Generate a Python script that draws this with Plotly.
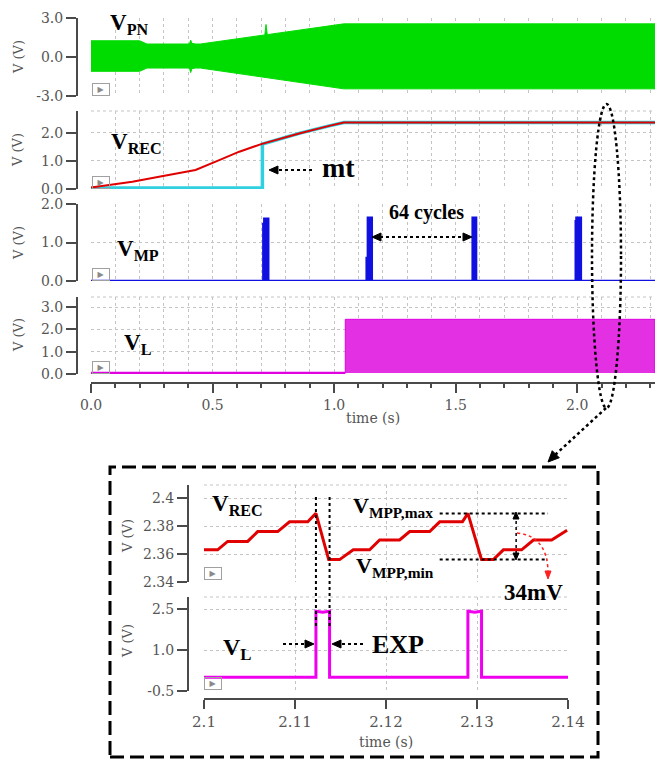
import plotly.graph_objects as go

# browser page keeps its default 8px body margin: size the figure to the visible area
OX, OY = 8, 8
W, H = 664 - OX, 762 - OY

# ---------------- data ----------------
# V_PN : dense oscillation, drawn by its envelope
pn_t     = [0.0, 0.20, 0.23, 0.405, 0.41, 0.415, 0.43, 0.45, 0.715, 0.72, 0.725, 1.04, 2.32]
pn_upper = [1.25, 1.25, 1.0, 1.0, 1.3, 1.05, 1.0, 1.0, 1.70, 2.50, 1.72, 2.55, 2.55]
pn_lower = [-1.1, -1.1, -0.85, -0.85, -1.2, -0.9, -0.85, -0.85, -1.57, -1.57, -1.58, -2.45, -2.45]

# V_REC (red) and mt trace (cyan)
rec_t = [0.0, 0.17, 0.28, 0.39, 0.43, 0.53, 0.61, 0.70, 0.86, 0.98, 1.04, 2.32]
rec_v = [0.05, 0.26, 0.44, 0.62, 0.68, 1.04, 1.33, 1.60, 1.99, 2.25, 2.37, 2.37]
mt_t = [0.0, 0.705, 0.705, 0.86, 0.98, 1.04, 2.32]
mt_v = [0.04, 0.04, 1.60, 1.99, 2.25, 2.37, 2.37]

# V_MP pulses
mp_start = [0.709, 1.134, 1.570, 1.994]
mp_step = [0.713, 1.139, 1.571, 1.997]
mp_end = [0.729, 1.155, 1.584, 2.015]
mp_pre = [1.48, 0.60, 1.64, 1.55]
mp_peak = [1.62, 1.64, 1.64, 1.64]
mp_base = 0.0

# V_L : off until switching starts, then dense pulse train
vl_on = 1.046
vl_high = 2.45
vl_low = 0.04
t_end = 2.32

# zoomed V_REC (2.10 - 2.14 s)
zrec_t = [2.1000, 2.1015, 2.1026, 2.1048, 2.1059, 2.1081, 2.1094, 2.1114, 2.1123, 2.1137,
          2.1149, 2.1164, 2.1182, 2.1193, 2.1215, 2.1226, 2.1248, 2.1259, 2.1284, 2.1290,
          2.1305, 2.1318, 2.1329, 2.1349, 2.1362, 2.1382, 2.1399]
zrec_v = [2.363, 2.363, 2.369, 2.369, 2.376, 2.376, 2.383, 2.383, 2.389, 2.356,
          2.356, 2.363, 2.363, 2.370, 2.370, 2.376, 2.376, 2.383, 2.383, 2.389,
          2.356, 2.356, 2.363, 2.363, 2.370, 2.370, 2.377]

# zoomed V_L pulses
zl_rise = [2.1123, 2.1290]
zl_fall = [2.1138, 2.1305]
zl_high = 2.42
zl_sag = 2.38
zl_low = 0.0
z_start, z_end = 2.10, 2.14

# MPP markers
vmpp_max = 2.389
vmpp_min = 2.356

# ---------------- helpers ----------------
def fx(px):
    return (px - OX) / W

def fy(py):
    return 1 - (py - OY) / H

fig = go.Figure()

# V_PN envelope
fig.add_trace(go.Scatter(x=pn_t + pn_t[::-1], y=pn_upper + pn_lower[::-1], mode='lines',
                         fill='toself', fillcolor='#00dc00', line=dict(color='#00dc00', width=1),
                         xaxis='x', yaxis='y', hoverinfo='skip'))
# V_REC
fig.add_trace(go.Scatter(x=mt_t, y=mt_v, mode='lines', line=dict(color='#2fd0e0', width=3.5),
                         xaxis='x', yaxis='y2', hoverinfo='skip'))
fig.add_trace(go.Scatter(x=rec_t, y=rec_v, mode='lines', line=dict(color='#e00000', width=2),
                         xaxis='x', yaxis='y2', hoverinfo='skip'))
# V_MP
mx, my = [0.0], [mp_base]
for s, st, e, pre, pk in zip(mp_start, mp_step, mp_end, mp_pre, mp_peak):
    mx += [s, s, st, st, e, e]
    my += [mp_base, pre, pre, pk, pk, mp_base]
mx.append(t_end)
my.append(mp_base)
fig.add_trace(go.Scatter(x=mx, y=my, mode='lines', fill='tozeroy', fillcolor='#1010e0',
                         line=dict(color='#1010e0', width=2.5),
                         xaxis='x', yaxis='y3', hoverinfo='skip'))
# V_L
fig.add_trace(go.Scatter(x=[0.0, vl_on], y=[vl_low, vl_low], mode='lines',
                         line=dict(color='#e000e0', width=2.5), xaxis='x', yaxis='y4', hoverinfo='skip'))
fig.add_trace(go.Scatter(x=[vl_on, vl_on, t_end, t_end], y=[vl_low, vl_high, vl_high, vl_low],
                         mode='lines', fill='toself', fillcolor='#e230e2',
                         line=dict(color='#e000e0', width=1), xaxis='x', yaxis='y4', hoverinfo='skip'))
# zoomed V_REC
fig.add_trace(go.Scatter(x=zrec_t, y=zrec_v, mode='lines', line=dict(color='#e00000', width=3),
                         xaxis='x2', yaxis='y5', hoverinfo='skip'))
# zoomed V_L
zx, zy = [z_start], [zl_low]
for r, f in zip(zl_rise, zl_fall):
    zx += [r, r, (r + f) / 2, f, f]
    zy += [zl_low, zl_high, zl_sag, zl_high, zl_low]
zx.append(z_end)
zy.append(zl_low)
fig.add_trace(go.Scatter(x=zx, y=zy, mode='lines', line=dict(color='#ee00ee', width=3),
                         xaxis='x2', yaxis='y6', hoverinfo='skip'))

# ---------------- axes ----------------
AX = '#4a4a4a'
GRID = '#c4c4c4'
common = dict(showline=True, linecolor=AX, linewidth=2, ticks='outside', tickcolor=AX,
              tickwidth=1.5, showgrid=True, gridcolor=GRID, griddash='dot', gridwidth=1,
              zeroline=False, fixedrange=True)

def yax(top, bot, rng, vals, texts, pos):
    d = dict(common)
    d.update(domain=[fy(bot), fy(top)], range=rng, anchor='free', position=fx(pos),
             tickmode='array', tickvals=vals, ticktext=texts, ticklen=10,
             tickfont=dict(family='DejaVu Serif', size=14, color='#555'))
    return d

xmain = dict(common)
xmain.update(domain=[fx(91), fx(655)], range=[0, t_end], anchor='free', position=fy(383),
             tickmode='linear', tick0=0, dtick=0.5, tickformat='.1f', ticklen=9,
             tickfont=dict(family='DejaVu Serif', size=14, color='#555'),
             minor=dict(tick0=0, dtick=0.1, ticks='outside', ticklen=4, tickcolor=AX,
                        showgrid=True, gridcolor=GRID, griddash='dot'))
xzoom = dict(common)
xzoom.update(domain=[fx(204), fx(568)], range=[z_start, z_end], anchor='free', position=fy(699),
             tickmode='array', tickvals=[2.1, 2.11, 2.12, 2.13, 2.14],
             ticktext=['2.1', '2.11', '2.12', '2.13', '2.14'], ticklen=9,
             tickfont=dict(family='DejaVu Serif', size=15, color='#555'))

fig.update_layout(
    width=W, height=H, margin=dict(l=0, r=0, t=0, b=0), template='none',
    paper_bgcolor='white', plot_bgcolor='white', showlegend=False,
    xaxis=xmain, xaxis2=xzoom,
    yaxis=yax(18, 96, [-3, 3], [-3, 0, 3], ['-3.0', '0.0', '3.0'], 77),
    yaxis2=yax(111, 189, [0, 2.78], [0, 1, 2], ['0.0', '1.0', '2.0'], 77),
    yaxis3=yax(204, 281, [0, 2.0], [0, 1, 2], ['0.0', '1.0', '2.0'], 77),
    yaxis4=yax(297, 374, [0, 3.45], [0, 1, 2, 3], ['0.0', '1.0', '2.0', '3.0'], 77),
    yaxis5=yax(485, 582, [2.34, 2.4093], [2.34, 2.36, 2.38, 2.4], ['2.34', '2.36', '2.38', '2.4'], 188),
    yaxis6=yax(597, 691, [-0.5, 2.94], [-0.5, 1.0, 2.5], ['-0.5', '1.0', '2.5'], 188),
)

# ---------------- decorations ----------------
shapes = []
ann = []

def line(x0, y0, x1, y1, color='black', width=2.2, dash='dot'):
    shapes.append(dict(type='line', xref='paper', yref='paper', x0=fx(x0), y0=fy(y0),
                       x1=fx(x1), y1=fy(y1), line=dict(color=color, width=width, dash=dash)))

def head(tx, ty, dx, dy, L=9, wd=8, color='black'):
    n = (dx * dx + dy * dy) ** 0.5
    ux, uy = dx / n, dy / n
    bx, by = tx - ux * L, ty - uy * L
    px_, py_ = -uy * wd / 2, ux * wd / 2
    pts = [(tx, ty), (bx + px_, by + py_), (bx - px_, by - py_)]
    path = 'M ' + ' L '.join('%f,%f' % (fx(a), fy(b)) for a, b in pts) + ' Z'
    shapes.append(dict(type='path', xref='paper', yref='paper', path=path,
                       fillcolor=color, line=dict(color=color, width=1)))

def text(t, x, y, size, xanchor='left', yanchor='top', family='Liberation Serif',
         color='black', angle=0):
    ann.append(dict(text=t, x=fx(x), y=fy(y), xref='paper', yref='paper', xanchor=xanchor,
                    yanchor=yanchor, showarrow=False, textangle=angle,
                    font=dict(family=family, size=size, color=color)))

def icon(cx, cy):
    ann.append(dict(text='&#9654;', x=fx(cx), y=fy(cy), xref='paper', yref='paper',
                    showarrow=False, xanchor='center', yanchor='middle',
                    font=dict(family='DejaVu Sans', size=8, color='#8a8a8a'),
                    bordercolor='#a0a0a0', borderwidth=1, borderpad=1, width=14, height=9))

# dotted top frame of panels
for top, l, r in [(111, 91, 655), (297, 91, 655), (485, 204, 568), (597, 204, 568)]:
    shapes.append(dict(type='line', xref='paper', yref='paper', x0=fx(l), x1=fx(r),
                       y0=fy(top), y1=fy(top), line=dict(color=GRID, width=1, dash='dot')))

# labels main
text('<b>V<sub>PN</sub></b>', 108, 8, 23)
text('<b>V<sub>REC</sub></b>', 109, 127, 23)
text('<b>V<sub>MP</sub></b>', 115, 234, 23)
text('<b>V<sub>L</sub></b>', 122, 328, 23)
text('<b>mt</b>', 339, 167, 28, xanchor='center', yanchor='middle')
text('<b>64 cycles</b>', 426, 213, 20, xanchor='center', yanchor='middle')

# mt arrow
line(312, 170, 277, 170)
head(269, 170, -1, 0)
# 64 cycles arrow
line(380, 237, 464, 237)
head(372, 237, -1, 0)
head(472, 237, 1, 0)

# axis titles
for cy in [57, 150, 243, 335]:
    text('V (V)', 18, cy, 13, xanchor='center', yanchor='middle', family='DejaVu Serif',
         color='#555', angle=-90)
text('time (s)', 373, 418, 14, xanchor='center', yanchor='middle', family='DejaVu Serif', color='#555')
for cy in [536, 641]:
    text('V (V)', 127, cy, 13, xanchor='center', yanchor='middle', family='DejaVu Serif',
         color='#555', angle=-90)
text('time (s)', 386, 742, 14, xanchor='center', yanchor='middle', family='DejaVu Serif', color='#555')

# play icons
for cx, cy in [(101, 89), (101, 182), (101, 274), (101, 367), (213, 573), (213, 683)]:
    icon(cx, cy)

# ellipse and arrow to inset
shapes.append(dict(type='circle', xref='paper', yref='paper', x0=fx(592), x1=fx(621),
                   y0=fy(408), y1=fy(104), line=dict(color='black', width=2.5, dash='dot')))
line(606, 408, 555, 455, width=2.5)
head(548, 462, -1, 1, L=11, wd=10)

# inset frame
shapes.append(dict(type='rect', xref='paper', yref='paper', x0=fx(110), x1=fx(598),
                   y0=fy(757), y1=fy(467), line=dict(color='black', width=3, dash='14px,6px')))

# inset annotations
for tv in [zl_rise[0], zl_fall[0]]:
    shapes.append(dict(type='line', xref='x2', yref='paper', x0=tv, x1=tv, y0=fy(497), y1=fy(628),
                       line=dict(color='black', width=2, dash='dot')))
for vv in [vmpp_max, vmpp_min]:
    shapes.append(dict(type='line', xref='x2', yref='y5', x0=2.1259, x1=2.1378, y0=vv, y1=vv,
                       line=dict(color='black', width=2, dash='dot')))
shapes.append(dict(type='line', xref='x2', yref='y5', x0=2.1343, x1=2.1343,
                   y0=vmpp_min + 0.004, y1=vmpp_max - 0.004, line=dict(color='black', width=1.5, dash='dot')))
head(516, 512, 0, -1, L=7, wd=6)
head(516, 560, 0, 1, L=7, wd=6)
# red curved arrow
shapes.append(dict(type='path', xref='paper', yref='paper',
                   path='M %f,%f Q %f,%f %f,%f' % (fx(517), fy(533), fx(547), fy(536), fx(548), fy(571)),
                   line=dict(color='#ff2020', width=1.5, dash='dot')))
head(548, 579, 0, 1, L=8, wd=6, color='#ff2020')

text('<b>V<sub>REC</sub></b>', 210, 489, 23)
text('<b>V<sub>MPP,max</sub></b>', 351, 491, 22)
text('<b>V<sub>MPP,min</sub></b>', 354, 551, 22)
text('<b>34mV</b>', 533, 592, 23, xanchor='center', yanchor='middle')
text('<b>V<sub>L</sub></b>', 221, 632, 24)
text('<b>EXP</b>', 398, 644, 26, xanchor='center', yanchor='middle')
line(283, 644, 306, 644)
head(314, 644, 1, 0)
line(363, 644, 340, 644)
head(332, 644, -1, 0)

fig.update_layout(shapes=shapes, annotations=ann)
fig.write_html('out.html')
